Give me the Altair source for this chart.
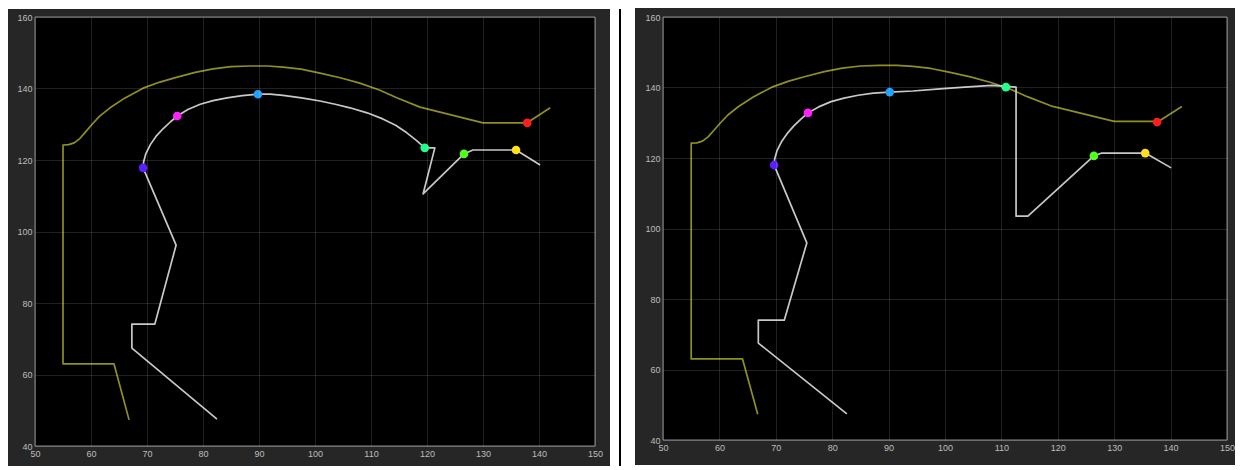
import altair as alt
import pandas as pd

# ---------------- data ----------------
# olive outline (identical in both panels)
OUT_X = [66.8, 64.1, 55.0, 55.0, 56.0, 57.0, 58.0, 59.0, 60.2, 61.5, 63.4, 66.0, 69.3, 72.3, 75.4,
         78.6, 81.8, 85.0, 88.4, 91.5, 94.3, 97.5, 100.9, 104.5, 108.0, 111.5, 114.6, 118.75,
         130.0, 137.9, 142.0]
OUT_Y = [47.3, 63.0, 63.0, 124.2, 124.3, 124.8, 126.0, 127.8, 130.0, 132.2, 134.6, 137.3, 140.1, 141.8, 143.2,
         144.5, 145.5, 146.1, 146.3, 146.3, 146.0, 145.4, 144.3, 143.0, 141.5, 139.6, 137.4, 134.8,
         130.4, 130.4, 134.6]

# left panel: light path
A_X = [82.5, 67.3, 67.3, 71.4, 75.2, 69.3, 69.4, 69.8, 70.6, 71.6, 72.9, 74.2, 75.4, 77.3, 79.5,
       81.8, 84.3, 87.0, 89.8, 92.0, 94.3, 97.6, 100.9, 103.6, 106.25, 109.3, 112.1, 114.4, 116.4,
       118.1, 119.6, 121.4, 119.3, 126.6, 128.2, 135.9, 140.2]
A_Y = [47.5, 67.4, 74.1, 74.1, 96.2, 117.8, 119.5, 121.8, 124.3, 126.6, 128.8, 130.7, 132.3, 134.1, 135.6,
       136.6, 137.4, 138.0, 138.4, 138.4, 138.1, 137.4, 136.5, 135.6, 134.6, 133.2, 131.5, 129.7, 127.6,
       125.5, 123.4, 123.4, 110.5, 121.7, 122.8, 122.8, 118.6]
A_PT_X = [69.3, 75.4, 89.8, 119.6, 126.6, 135.9, 137.9]
A_PT_Y = [117.8, 132.3, 138.4, 123.4, 121.7, 122.8, 130.4]

# right panel: light path
B_X = [82.6, 66.9, 66.9, 71.5, 75.5, 69.7, 69.8, 70.2, 71.0, 72.0, 73.2, 74.5, 75.7, 77.6, 79.8,
       82.1, 84.6, 87.3, 90.2, 94.3, 99.1, 103.5, 108.3, 110.8, 112.6, 112.6, 114.7, 126.4, 127.8,
       135.5, 140.1]
B_Y = [47.4, 67.5, 74.0, 74.0, 95.9, 118.0, 119.7, 122.0, 124.6, 126.9, 129.1, 131.1, 132.8, 134.5, 136.0,
       137.0, 137.8, 138.4, 138.7, 139.0, 139.6, 140.1, 140.6, 140.3, 140.1, 103.5, 103.5, 120.6, 121.4,
       121.4, 117.2]
B_PT_X = [69.7, 75.7, 90.2, 110.8, 126.4, 135.5, 137.6]
B_PT_Y = [118.0, 132.8, 138.7, 140.1, 120.6, 121.4, 130.2]

PT_NAMES = ["p1", "p2", "p3", "p4", "p5", "p6", "p7"]
PT_COLORS = ["#5a1eff", "#ff22ff", "#1ea0ff", "#1eff8c", "#50ff1e", "#ffe01e", "#ff1e1e"]

X_TICKS = [50, 60, 70, 80, 90, 100, 110, 120, 130, 140, 150]
Y_TICKS = [40, 60, 80, 100, 120, 140, 160]

OLIVE = "#8f8f22"
LIGHT = "#c8c8c8"
FRAME = "#262626"


def axis(vals):
    return alt.Axis(values=vals, grid=True, gridColor="white", gridOpacity=0.13,
                    domain=False, ticks=False, labelColor="#bdbdbd", labelFontSize=9,
                    labelFont="Liberation Sans", labelPadding=3, title=None, zindex=1,
                    labelFlush=False)


def panel(px, py, ptx, pty, w, h, fl, ft, fr, fb, divider):
    xs = alt.Scale(domain=[50, 150], nice=False, zero=False)
    ys = alt.Scale(domain=[40, 160], nice=False, zero=False)
    dummy = pd.DataFrame({"a": [0]})
    frame = alt.Chart(dummy).mark_rect(color=FRAME).encode(
        x=alt.value(-fl), x2=alt.value(w + fr), y=alt.value(-ft), y2=alt.value(h + fb))
    plot = alt.Chart(dummy).mark_rect(fill="black", stroke="#8a8a8a", strokeWidth=1).encode(
        x=alt.value(0), x2=alt.value(w), y=alt.value(0), y2=alt.value(h))
    out_df = pd.DataFrame({"x": OUT_X, "y": OUT_Y, "i": list(range(len(OUT_X)))})
    path_df = pd.DataFrame({"x": px, "y": py, "i": list(range(len(px)))})
    pt_df = pd.DataFrame({"x": ptx, "y": pty, "n": PT_NAMES})
    outline = alt.Chart(out_df).mark_line(color=OLIVE, strokeWidth=1.7, strokeJoin="round").encode(
        x=alt.X("x:Q", scale=xs, axis=axis(X_TICKS)),
        y=alt.Y("y:Q", scale=ys, axis=axis(Y_TICKS)),
        order="i:Q")
    path = alt.Chart(path_df).mark_line(color=LIGHT, strokeWidth=1.7, strokeJoin="round").encode(
        x=alt.X("x:Q", scale=xs), y=alt.Y("y:Q", scale=ys), order="i:Q")
    pts = alt.Chart(pt_df).mark_circle(size=75, opacity=1).encode(
        x=alt.X("x:Q", scale=xs), y=alt.Y("y:Q", scale=ys),
        color=alt.Color("n:N", scale=alt.Scale(domain=PT_NAMES, range=PT_COLORS), legend=None))
    layers = [frame, plot, outline, path, pts]
    if divider:
        layers.append(alt.Chart(dummy).mark_rule(color="black", strokeWidth=2).encode(
            x=alt.value(w + 25), y=alt.value(-ft), y2=alt.value(h + fb)))
    return alt.layer(*layers).properties(width=w, height=h)


left = panel(A_X, A_Y, A_PT_X, A_PT_Y, 560, 429, 27, 8, 15, 20, True)
right = panel(B_X, B_Y, B_PT_X, B_PT_Y, 564, 423, 28, 9, 8, 25, False)

chart = alt.hconcat(left, right, spacing=14).properties(
    padding=0, background="white"
).configure_view(strokeWidth=0)

chart.save("out.html", embed_options={"renderer": "svg", "actions": False})
